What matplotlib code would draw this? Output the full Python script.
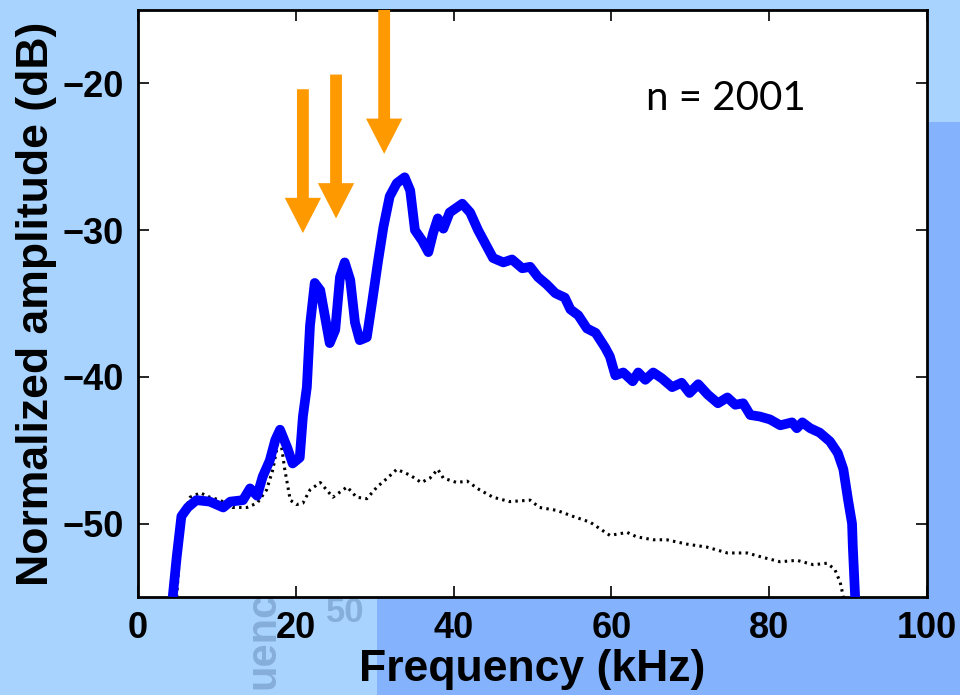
import matplotlib
matplotlib.use("Agg")
import matplotlib.pyplot as plt
from matplotlib.patches import FancyArrow, Rectangle

# spectrum, thick blue curve (kHz, dB)
blue_f = [4.4, 4.9, 5.5, 6.3, 7.4, 9.1, 10.8, 11.7, 13.3, 14.2, 15.1, 15.8, 16.7, 17.4,
          18.0, 18.9, 19.6, 20.5, 20.9, 21.4, 21.8, 22.4, 23.1, 23.7, 24.3, 25.0, 25.6,
          26.2, 26.9, 27.5, 28.1, 29.0, 29.7, 30.4, 31.1, 31.9, 32.8, 33.8, 34.5, 35.1,
          36.0, 36.8, 37.4, 38.0, 38.7, 39.5, 41.1, 42.1, 43.1, 44.2, 45.0, 46.3, 47.4,
          48.7, 49.7, 50.7, 51.8, 52.9, 54.1, 54.8, 55.8, 56.9, 58.0, 59.2, 59.8, 60.5,
          61.5, 62.7, 63.4, 64.3, 65.3, 66.4, 67.7, 68.9, 69.9, 71.0, 72.2, 73.5, 74.7,
          75.7, 76.7, 77.6, 78.8, 80.1, 81.4, 82.9, 83.5, 84.2, 85.2, 86.4, 87.7, 88.7,
          89.4, 90.0, 90.5, 90.6, 90.9]
blue_db = [-55.0, -52.3, -49.5, -48.9, -48.4, -48.5, -48.9, -48.5, -48.4, -47.6, -48.1,
           -46.8, -45.7, -44.3, -43.6, -44.8, -45.9, -45.5, -42.7, -40.7, -36.5, -33.6,
           -34.1, -35.9, -37.7, -36.8, -33.2, -32.2, -33.4, -36.3, -37.5, -37.3, -34.8,
           -32.2, -29.8, -27.7, -26.8, -26.4, -27.3, -30.0, -30.7, -31.5, -30.2, -29.2,
           -29.9, -28.8, -28.2, -28.8, -30.0, -31.1, -31.9, -32.2, -32.0, -32.6, -32.5,
           -33.2, -33.7, -34.3, -34.6, -35.4, -35.8, -36.7, -37.0, -38.0, -38.6, -39.9,
           -39.7, -40.3, -39.7, -40.2, -39.7, -40.1, -40.7, -40.4, -41.1, -40.5, -41.2,
           -41.8, -41.4, -41.9, -41.8, -42.6, -42.7, -42.9, -43.3, -43.1, -43.5, -43.1,
           -43.5, -43.8, -44.4, -45.2, -46.3, -48.4, -50.0, -51.6, -55.1]

# noise floor, dotted black curve
noise_f = [4.9, 5.3, 5.7, 6.6, 7.9, 9.1, 10.4, 12.0, 13.8, 15.1, 16.3, 17.1, 17.7, 18.2,
           18.6, 19.3, 20.1, 20.9, 21.8, 23.1, 23.9, 24.7, 26.5, 27.7, 29.0, 30.3, 31.6,
           32.8, 34.5, 35.9, 37.0, 38.0, 38.7, 40.4, 41.7, 43.3, 45.0, 47.1, 49.7, 50.9,
           53.1, 55.1, 57.3, 59.8, 62.0, 63.2, 65.3, 67.0, 69.6, 72.1, 74.7, 77.2, 79.2,
           81.4, 83.5, 85.6, 87.3, 88.3, 89.0, 89.4]
noise_db = [-55.0, -51.8, -49.5, -48.2, -47.9, -48.2, -48.4, -48.9, -48.9, -48.6, -47.7,
            -46.3, -44.6, -44.8, -46.3, -48.4, -48.7, -48.6, -47.7, -47.2, -47.7, -48.2,
            -47.5, -48.2, -48.3, -47.5, -46.9, -46.3, -46.7, -47.2, -46.9, -46.3, -46.9,
            -47.2, -47.1, -47.7, -48.2, -48.5, -48.4, -48.9, -49.1, -49.5, -49.9, -50.8,
            -50.6, -50.9, -51.1, -51.1, -51.4, -51.6, -52.0, -52.0, -52.3, -52.6, -52.5,
            -52.8, -52.7, -53.1, -54.0, -55.0]

# arrows: x position, top, tip (dB)
arrow_x = [20.9, 25.1, 31.2]
arrow_top = [-20.4, -19.4, -15.0]
arrow_tip = [-30.2, -29.2, -24.8]

light_bg = "#a8d3fe"
dark_bg = "#84b2fc"

fig = plt.figure(figsize=(9.6, 6.95), dpi=100, facecolor=light_bg)
# darker panel of the slide behind the chart
fig.patches.append(Rectangle((377/960, 0), 1, 97/695, transform=fig.transFigure,
                             facecolor=dark_bg, edgecolor="none", zorder=-3))
fig.patches.append(Rectangle((927/960, 0), 1, 573/695, transform=fig.transFigure,
                             facecolor=dark_bg, edgecolor="none", zorder=-3))
# ghost text from the slide underneath
fig.text(345/960, 1 - 612/695, "50", color="#86aedb", fontsize=25, fontweight="bold",
         family="Liberation Sans", ha="center", va="center", zorder=-2)
fig.text(263/960, 1 - 640/695, "uenc", color="#86aedb", fontsize=30, fontweight="bold",
         family="Liberation Sans", ha="center", va="center", rotation=90, zorder=-2)

ax = fig.add_axes([138/960, 1 - 597/695, 789/960, 587/695])
ax.set_facecolor("white")

ax.plot(noise_f, noise_db, color="black", lw=2.2, ls=(0, (0.8, 1.4)), zorder=2)
ax.plot(blue_f, blue_db, color="#0000ff", lw=7, solid_capstyle="butt",
        solid_joinstyle="round", zorder=3)

for x, top, tip in zip(arrow_x, arrow_top, arrow_tip):
    ax.add_patch(FancyArrow(x, top, 0, tip - top, width=1.5, head_width=4.6,
                            head_length=2.4, length_includes_head=True,
                            color="#ff9900", lw=0, zorder=4, clip_on=False))

ax.text(74.5, -21.0, "n = 2001", fontsize=29, family="Lato", ha="center", va="center")

ax.set_xlim(0, 100)
ax.set_ylim(-55, -15)
ax.set_xticks([0, 20, 40, 60, 80, 100])
ax.set_yticks([-50, -40, -30, -20])
ax.tick_params(direction="in", length=8, width=1.2, top=True, right=True,
               labelsize=26, pad=10)
for lab in ax.get_xticklabels() + ax.get_yticklabels():
    lab.set_fontweight("bold")
    lab.set_family("Liberation Sans")
for sp in ax.spines.values():
    sp.set_linewidth(2)

ax.set_xlabel("Frequency (kHz)", fontsize=32, fontweight="bold",
              family="Liberation Sans", labelpad=2)
ax.set_ylabel("Normalized amplitude (dB)", fontsize=32, fontweight="bold",
              family="Liberation Sans", labelpad=4)

fig.savefig("out.png", dpi=100, facecolor=fig.get_facecolor())
